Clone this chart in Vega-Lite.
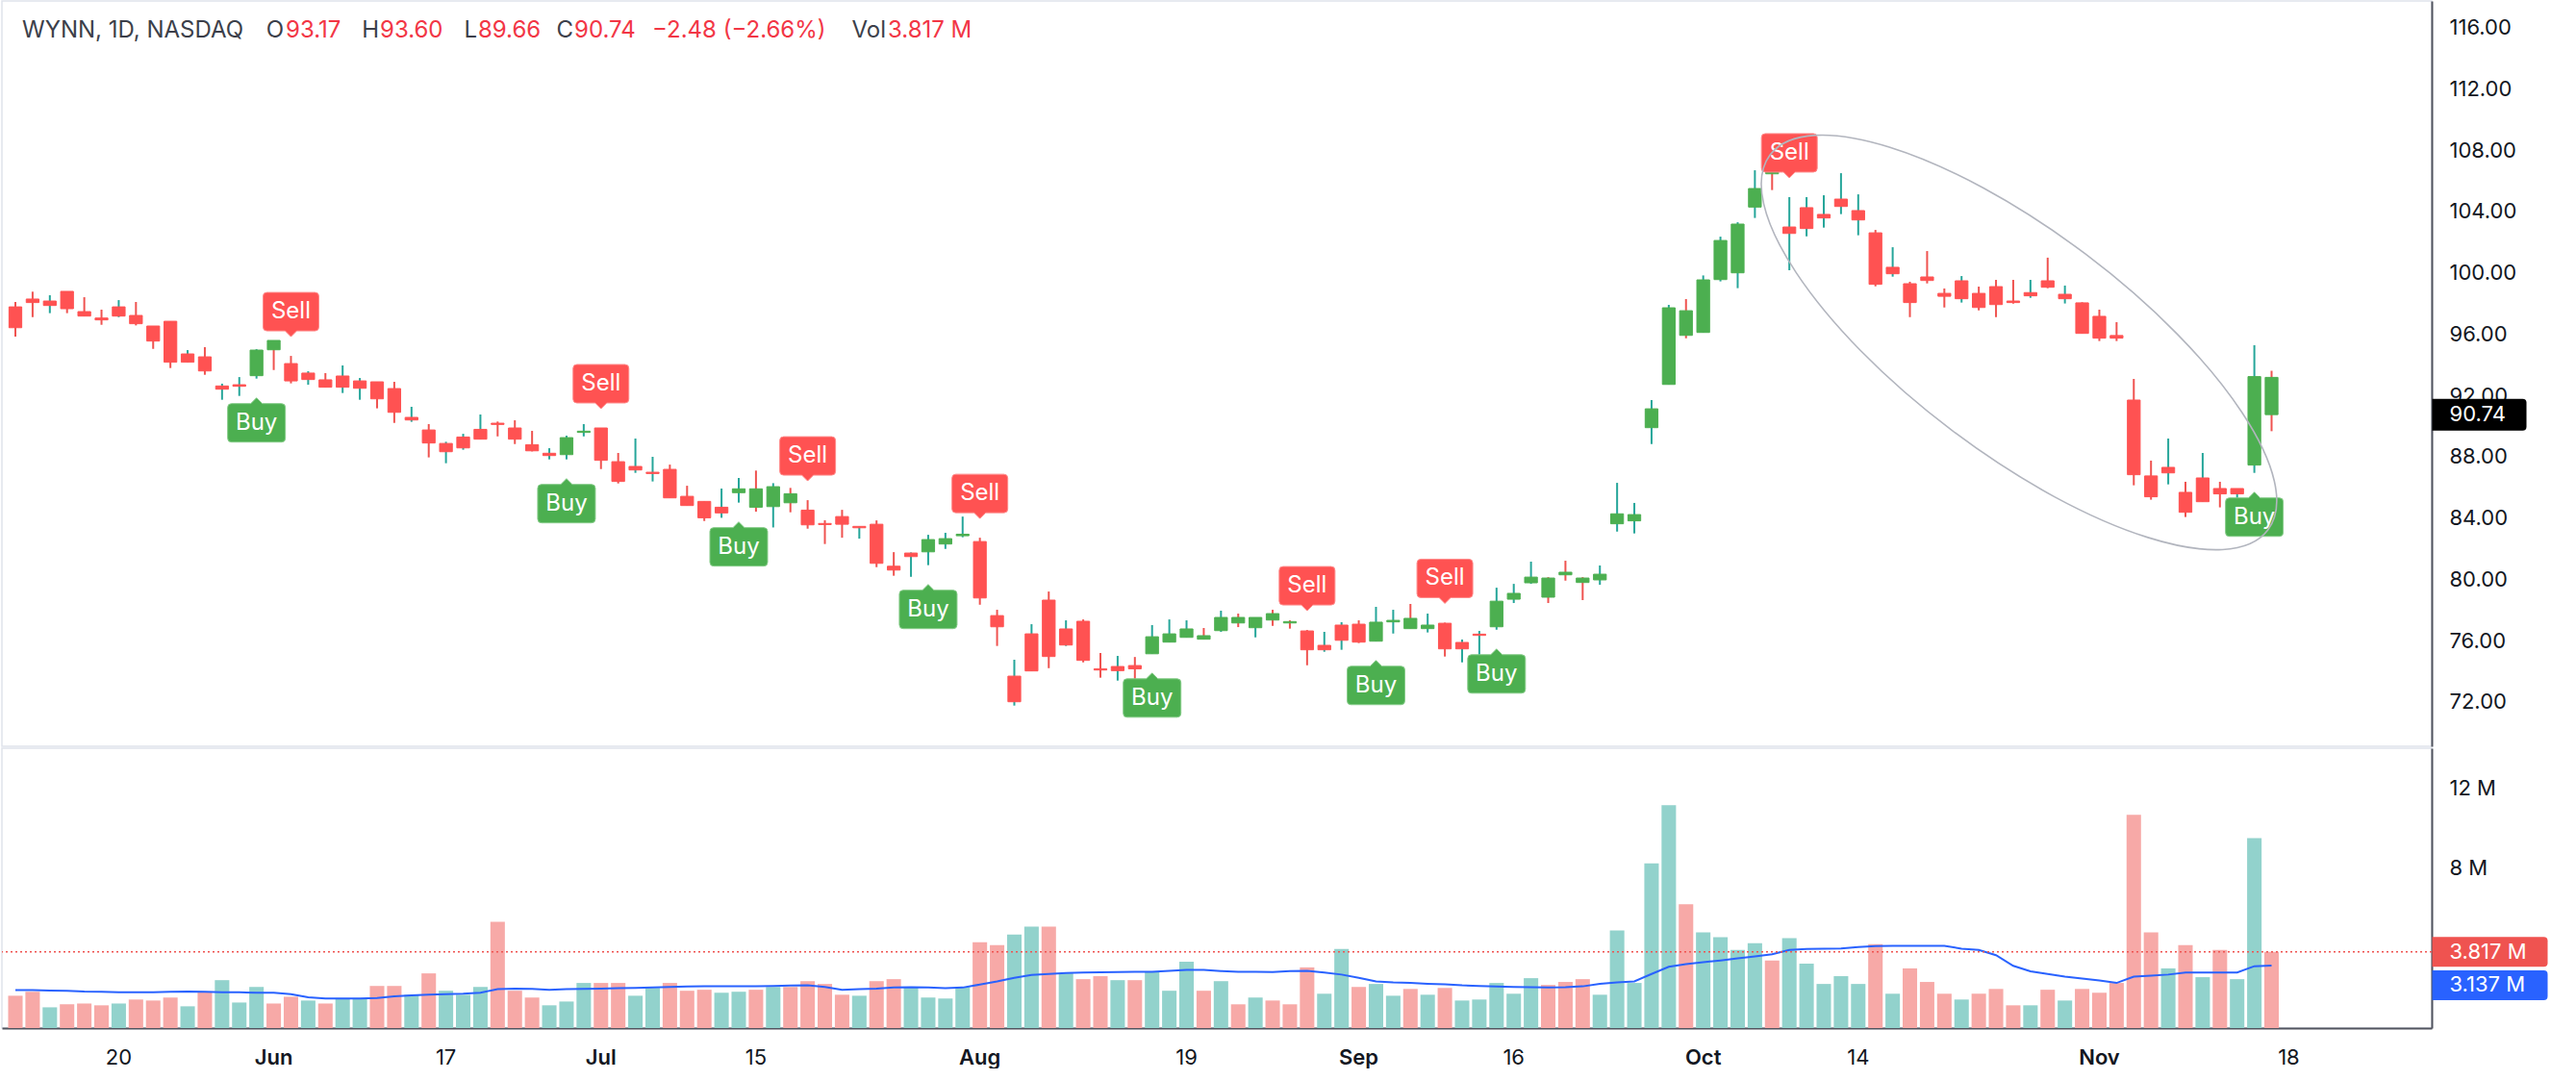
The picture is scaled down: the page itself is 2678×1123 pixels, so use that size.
{
"$schema":"https://vega.github.io/schema/vega-lite/v6.json",
"padding":0,
"spacing":0,
"background":"white",
"config":{"font":"Inter","view":{"stroke":"#e0e3eb","strokeWidth":1.5},"axis":{"labelFont":"Inter"}},
"datasets":{"candles":[
{"date":"2024-05-10","open":97.77,"high":98.09,"low":95.83,"close":96.41,"volume":1620000,"ma":1900000,"state":"short"},
{"date":"2024-05-13","open":98.28,"high":98.76,"low":97.10,"close":98.05,"volume":1820000,"ma":1900000,"state":"short"},
{"date":"2024-05-14","open":97.86,"high":98.53,"low":97.36,"close":98.15,"volume":1040000,"ma":1880000,"state":"short"},
{"date":"2024-05-15","open":98.78,"high":98.78,"low":97.36,"close":97.65,"volume":1190000,"ma":1870000,"state":"short"},
{"date":"2024-05-16","open":97.46,"high":98.40,"low":97.17,"close":97.17,"volume":1230000,"ma":1830000,"state":"short"},
{"date":"2024-05-17","open":97.04,"high":97.59,"low":96.60,"close":96.92,"volume":1140000,"ma":1820000,"state":"short"},
{"date":"2024-05-20","open":97.17,"high":98.21,"low":97.10,"close":97.77,"volume":1230000,"ma":1800000,"state":"short"},
{"date":"2024-05-21","open":97.21,"high":98.09,"low":96.56,"close":96.67,"volume":1430000,"ma":1800000,"state":"short"},
{"date":"2024-05-22","open":96.52,"high":96.52,"low":95.03,"close":95.54,"volume":1380000,"ma":1800000,"state":"short"},
{"date":"2024-05-23","open":96.83,"high":96.83,"low":93.78,"close":94.16,"volume":1530000,"ma":1820000,"state":"short"},
{"date":"2024-05-24","open":94.16,"high":94.95,"low":94.16,"close":94.70,"volume":1090000,"ma":1830000,"state":"short"},
{"date":"2024-05-28","open":94.51,"high":95.14,"low":93.34,"close":93.59,"volume":1820000,"ma":1820000,"state":"short"},
{"date":"2024-05-29","open":92.40,"high":92.76,"low":91.71,"close":92.61,"volume":2400000,"ma":1800000,"state":"short"},
{"date":"2024-05-30","open":92.59,"high":93.19,"low":91.96,"close":92.69,"volume":1280000,"ma":1790000,"state":"short"},
{"date":"2024-05-31","open":93.28,"high":95.01,"low":93.09,"close":94.95,"volume":2060000,"ma":1770000,"state":"long","signal":"Buy"},
{"date":"2024-06-03","open":95.58,"high":95.58,"low":93.65,"close":94.97,"volume":1230000,"ma":1770000,"state":"long"},
{"date":"2024-06-04","open":94.07,"high":94.57,"low":92.78,"close":92.94,"volume":1570000,"ma":1700000,"state":"short","signal":"Sell"},
{"date":"2024-06-05","open":93.03,"high":93.57,"low":92.69,"close":93.45,"volume":1380000,"ma":1540000,"state":"short"},
{"date":"2024-06-06","open":93.01,"high":93.45,"low":92.53,"close":92.53,"volume":1230000,"ma":1480000,"state":"short"},
{"date":"2024-06-07","open":92.53,"high":93.95,"low":92.15,"close":93.26,"volume":1480000,"ma":1480000,"state":"short"},
{"date":"2024-06-10","open":92.46,"high":93.13,"low":91.71,"close":92.94,"volume":1480000,"ma":1480000,"state":"short"},
{"date":"2024-06-11","open":92.88,"high":92.88,"low":91.15,"close":91.77,"volume":2110000,"ma":1510000,"state":"short"},
{"date":"2024-06-12","open":92.44,"high":92.88,"low":90.20,"close":90.89,"volume":2110000,"ma":1590000,"state":"short"},
{"date":"2024-06-13","open":90.39,"high":91.25,"low":90.27,"close":90.56,"volume":1670000,"ma":1640000,"state":"short"},
{"date":"2024-06-14","open":89.74,"high":90.12,"low":87.95,"close":88.89,"volume":2740000,"ma":1670000,"state":"short"},
{"date":"2024-06-17","open":88.32,"high":88.97,"low":87.57,"close":88.86,"volume":1870000,"ma":1700000,"state":"short"},
{"date":"2024-06-18","open":88.57,"high":89.49,"low":88.45,"close":89.28,"volume":1670000,"ma":1720000,"state":"short"},
{"date":"2024-06-20","open":89.14,"high":90.75,"low":89.14,"close":89.78,"volume":2060000,"ma":1770000,"state":"short"},
{"date":"2024-06-21","open":90.18,"high":90.29,"low":89.32,"close":90.10,"volume":5320000,"ma":1950000,"state":"short"},
{"date":"2024-06-24","open":89.87,"high":90.37,"low":88.82,"close":89.14,"volume":1870000,"ma":1980000,"state":"short"},
{"date":"2024-06-25","open":88.78,"high":89.68,"low":88.34,"close":88.38,"volume":1530000,"ma":1960000,"state":"short"},
{"date":"2024-06-26","open":88.07,"high":88.55,"low":87.82,"close":88.22,"volume":1140000,"ma":1920000,"state":"short"},
{"date":"2024-06-27","open":88.13,"high":89.37,"low":87.82,"close":89.24,"volume":1330000,"ma":1950000,"state":"long","signal":"Buy"},
{"date":"2024-06-28","open":89.58,"high":90.12,"low":89.32,"close":89.66,"volume":2260000,"ma":1960000,"state":"long"},
{"date":"2024-07-01","open":89.87,"high":89.87,"low":87.19,"close":87.76,"volume":2260000,"ma":1980000,"state":"short","signal":"Sell"},
{"date":"2024-07-02","open":87.67,"high":88.24,"low":86.25,"close":86.38,"volume":2260000,"ma":2000000,"state":"short"},
{"date":"2024-07-03","open":87.13,"high":89.18,"low":86.94,"close":87.36,"volume":1620000,"ma":2010000,"state":"short"},
{"date":"2024-07-05","open":86.90,"high":87.99,"low":86.38,"close":86.98,"volume":2010000,"ma":2030000,"state":"short"},
{"date":"2024-07-08","open":87.17,"high":87.48,"low":85.31,"close":85.31,"volume":2260000,"ma":2060000,"state":"short"},
{"date":"2024-07-09","open":85.41,"high":86.10,"low":84.81,"close":84.81,"volume":1870000,"ma":2080000,"state":"short"},
{"date":"2024-07-10","open":85.08,"high":85.08,"low":83.80,"close":84.01,"volume":1920000,"ma":2090000,"state":"short"},
{"date":"2024-07-11","open":84.33,"high":85.92,"low":84.01,"close":84.70,"volume":1770000,"ma":2090000,"state":"short"},
{"date":"2024-07-12","open":85.65,"high":86.61,"low":85.00,"close":85.90,"volume":1820000,"ma":2090000,"state":"long","signal":"Buy"},
{"date":"2024-07-15","open":85.90,"high":87.09,"low":84.41,"close":84.70,"volume":1920000,"ma":2090000,"state":"long"},
{"date":"2024-07-16","open":84.74,"high":86.27,"low":83.38,"close":86.04,"volume":2060000,"ma":2110000,"state":"long"},
{"date":"2024-07-17","open":85.58,"high":85.96,"low":84.37,"close":84.99,"volume":2060000,"ma":2130000,"state":"long"},
{"date":"2024-07-18","open":84.51,"high":85.16,"low":83.30,"close":83.55,"volume":2350000,"ma":2140000,"state":"short","signal":"Sell"},
{"date":"2024-07-19","open":83.64,"high":83.85,"low":82.30,"close":83.57,"volume":2210000,"ma":2060000,"state":"short"},
{"date":"2024-07-22","open":84.09,"high":84.53,"low":82.71,"close":83.59,"volume":1670000,"ma":1920000,"state":"short"},
{"date":"2024-07-23","open":83.36,"high":83.45,"low":82.65,"close":83.45,"volume":1620000,"ma":1950000,"state":"short"},
{"date":"2024-07-24","open":83.59,"high":83.84,"low":80.79,"close":81.04,"volume":2350000,"ma":1980000,"state":"short"},
{"date":"2024-07-25","open":80.85,"high":81.77,"low":80.23,"close":80.60,"volume":2450000,"ma":2030000,"state":"short"},
{"date":"2024-07-26","open":81.48,"high":81.75,"low":80.16,"close":81.71,"volume":2060000,"ma":2050000,"state":"short"},
{"date":"2024-07-29","open":81.79,"high":82.90,"low":80.92,"close":82.59,"volume":1530000,"ma":2030000,"state":"long","signal":"Buy"},
{"date":"2024-07-30","open":82.30,"high":83.03,"low":81.98,"close":82.65,"volume":1480000,"ma":2000000,"state":"long"},
{"date":"2024-07-31","open":82.84,"high":84.09,"low":82.74,"close":82.94,"volume":2060000,"ma":2030000,"state":"long"},
{"date":"2024-08-01","open":82.46,"high":82.71,"low":78.34,"close":78.78,"volume":4300000,"ma":2180000,"state":"short","signal":"Sell"},
{"date":"2024-08-02","open":77.63,"high":78.01,"low":75.65,"close":76.90,"volume":4160000,"ma":2340000,"state":"short"},
{"date":"2024-08-05","open":72.01,"high":74.75,"low":71.76,"close":73.68,"volume":4690000,"ma":2520000,"state":"short"},
{"date":"2024-08-06","open":74.02,"high":77.07,"low":74.02,"close":76.44,"volume":5080000,"ma":2660000,"state":"short"},
{"date":"2024-08-07","open":78.64,"high":79.20,"low":74.20,"close":74.96,"volume":5080000,"ma":2710000,"state":"short"},
{"date":"2024-08-08","open":75.71,"high":77.32,"low":75.65,"close":76.76,"volume":2740000,"ma":2760000,"state":"short"},
{"date":"2024-08-09","open":77.26,"high":77.38,"low":74.58,"close":74.71,"volume":2450000,"ma":2780000,"state":"short"},
{"date":"2024-08-12","open":74.16,"high":75.19,"low":73.58,"close":74.08,"volume":2600000,"ma":2790000,"state":"short"},
{"date":"2024-08-13","open":74.04,"high":75.00,"low":73.39,"close":74.31,"volume":2400000,"ma":2810000,"state":"short"},
{"date":"2024-08-14","open":74.37,"high":74.93,"low":73.39,"close":74.16,"volume":2400000,"ma":2820000,"state":"short"},
{"date":"2024-08-15","open":75.14,"high":77.01,"low":75.14,"close":76.25,"volume":2840000,"ma":2820000,"state":"long","signal":"Buy"},
{"date":"2024-08-16","open":75.90,"high":77.38,"low":75.90,"close":76.44,"volume":1870000,"ma":2870000,"state":"long"},
{"date":"2024-08-19","open":76.21,"high":77.32,"low":76.21,"close":76.76,"volume":3330000,"ma":2920000,"state":"long"},
{"date":"2024-08-20","open":76.32,"high":76.82,"low":76.09,"close":76.09,"volume":1870000,"ma":2910000,"state":"long"},
{"date":"2024-08-21","open":76.65,"high":77.95,"low":76.57,"close":77.51,"volume":2350000,"ma":2860000,"state":"long"},
{"date":"2024-08-22","open":77.51,"high":77.76,"low":76.88,"close":77.15,"volume":1190000,"ma":2820000,"state":"long"},
{"date":"2024-08-23","open":76.84,"high":77.51,"low":76.21,"close":77.51,"volume":1530000,"ma":2820000,"state":"long"},
{"date":"2024-08-26","open":77.76,"high":78.01,"low":76.96,"close":77.34,"volume":1380000,"ma":2810000,"state":"long"},
{"date":"2024-08-27","open":77.24,"high":77.32,"low":76.78,"close":77.15,"volume":1190000,"ma":2860000,"state":"long"},
{"date":"2024-08-28","open":76.63,"high":76.69,"low":74.39,"close":75.40,"volume":3040000,"ma":2870000,"state":"short","signal":"Sell"},
{"date":"2024-08-29","open":75.40,"high":76.57,"low":75.27,"close":75.69,"volume":1720000,"ma":2780000,"state":"short"},
{"date":"2024-08-30","open":76.02,"high":77.20,"low":75.40,"close":77.01,"volume":3960000,"ma":2680000,"state":"short"},
{"date":"2024-09-03","open":77.07,"high":77.32,"low":75.84,"close":75.90,"volume":2060000,"ma":2520000,"state":"short"},
{"date":"2024-09-04","open":75.96,"high":78.20,"low":75.96,"close":77.20,"volume":2210000,"ma":2340000,"state":"long","signal":"Buy"},
{"date":"2024-09-05","open":77.22,"high":78.01,"low":76.46,"close":77.32,"volume":1620000,"ma":2290000,"state":"long"},
{"date":"2024-09-06","open":77.45,"high":78.39,"low":76.78,"close":76.78,"volume":1960000,"ma":2260000,"state":"long"},
{"date":"2024-09-09","open":76.78,"high":77.76,"low":76.53,"close":77.01,"volume":1670000,"ma":2220000,"state":"long"},
{"date":"2024-09-10","open":77.13,"high":77.17,"low":74.96,"close":75.46,"volume":2010000,"ma":2190000,"state":"short","signal":"Sell"},
{"date":"2024-09-11","open":75.46,"high":76.07,"low":74.58,"close":75.88,"volume":1380000,"ma":2140000,"state":"short"},
{"date":"2024-09-12","open":76.34,"high":76.63,"low":75.06,"close":76.42,"volume":1430000,"ma":2110000,"state":"short"},
{"date":"2024-09-13","open":76.90,"high":79.45,"low":76.71,"close":78.57,"volume":2260000,"ma":2080000,"state":"long","signal":"Buy"},
{"date":"2024-09-16","open":78.70,"high":79.70,"low":78.45,"close":79.08,"volume":1720000,"ma":2060000,"state":"long"},
{"date":"2024-09-17","open":79.77,"high":81.15,"low":79.70,"close":80.14,"volume":2500000,"ma":2050000,"state":"long"},
{"date":"2024-09-18","open":80.08,"high":80.14,"low":78.45,"close":78.83,"volume":2160000,"ma":2030000,"state":"long"},
{"date":"2024-09-19","open":80.46,"high":81.21,"low":79.91,"close":80.29,"volume":2310000,"ma":2050000,"state":"long"},
{"date":"2024-09-20","open":80.08,"high":80.14,"low":78.64,"close":79.79,"volume":2450000,"ma":2090000,"state":"long"},
{"date":"2024-09-23","open":79.96,"high":80.90,"low":79.64,"close":80.33,"volume":1670000,"ma":2220000,"state":"long"},
{"date":"2024-09-24","open":83.62,"high":86.29,"low":83.11,"close":84.27,"volume":4890000,"ma":2290000,"state":"long"},
{"date":"2024-09-25","open":83.81,"high":84.98,"low":82.99,"close":84.22,"volume":2260000,"ma":2340000,"state":"long"},
{"date":"2024-09-26","open":89.89,"high":91.69,"low":88.82,"close":91.12,"volume":8250000,"ma":2710000,"state":"long"},
{"date":"2024-09-27","open":92.71,"high":97.90,"low":92.71,"close":97.71,"volume":11170000,"ma":3070000,"state":"long"},
{"date":"2024-09-30","open":97.52,"high":98.28,"low":95.72,"close":95.91,"volume":6200000,"ma":3200000,"state":"long"},
{"date":"2024-10-01","open":96.10,"high":99.82,"low":96.10,"close":99.53,"volume":4790000,"ma":3300000,"state":"long"},
{"date":"2024-10-02","open":99.55,"high":102.35,"low":99.43,"close":102.10,"volume":4550000,"ma":3390000,"state":"long"},
{"date":"2024-10-03","open":99.99,"high":103.29,"low":98.99,"close":103.17,"volume":3910000,"ma":3490000,"state":"long"},
{"date":"2024-10-04","open":104.28,"high":106.68,"low":103.57,"close":105.49,"volume":4250000,"ma":3590000,"state":"long"},
{"date":"2024-10-07","open":107.58,"high":107.90,"low":105.39,"close":106.45,"volume":3380000,"ma":3700000,"state":"long"},
{"date":"2024-10-08","open":102.56,"high":104.93,"low":100.16,"close":102.98,"volume":4500000,"ma":3910000,"state":"short","signal":"Sell"},
{"date":"2024-10-09","open":102.88,"high":104.93,"low":102.37,"close":104.24,"volume":3230000,"ma":3960000,"state":"short"},
{"date":"2024-10-10","open":103.57,"high":105.05,"low":102.94,"close":103.80,"volume":2210000,"ma":3980000,"state":"short"},
{"date":"2024-10-11","open":104.32,"high":106.49,"low":103.82,"close":104.80,"volume":2600000,"ma":3990000,"state":"short"},
{"date":"2024-10-14","open":103.44,"high":105.11,"low":102.44,"close":104.05,"volume":2210000,"ma":4060000,"state":"short"},
{"date":"2024-10-15","open":102.60,"high":102.79,"low":99.11,"close":99.24,"volume":4200000,"ma":4110000,"state":"short"},
{"date":"2024-10-16","open":99.93,"high":101.66,"low":99.74,"close":100.35,"volume":1720000,"ma":4120000,"state":"short"},
{"date":"2024-10-17","open":99.28,"high":99.41,"low":97.10,"close":98.05,"volume":2990000,"ma":4120000,"state":"short"},
{"date":"2024-10-18","open":99.72,"high":101.41,"low":99.30,"close":99.49,"volume":2310000,"ma":4120000,"state":"short"},
{"date":"2024-10-21","open":98.65,"high":98.97,"low":97.73,"close":98.46,"volume":1720000,"ma":4120000,"state":"short"},
{"date":"2024-10-22","open":98.30,"high":99.78,"low":98.05,"close":99.47,"volume":1430000,"ma":3980000,"state":"short"},
{"date":"2024-10-23","open":98.65,"high":99.09,"low":97.54,"close":97.73,"volume":1720000,"ma":3910000,"state":"short"},
{"date":"2024-10-24","open":99.09,"high":99.53,"low":97.10,"close":97.92,"volume":1960000,"ma":3650000,"state":"short"},
{"date":"2024-10-25","open":98.15,"high":99.53,"low":97.98,"close":98.05,"volume":1140000,"ma":3120000,"state":"short"},
{"date":"2024-10-28","open":98.49,"high":99.53,"low":98.36,"close":98.70,"volume":1140000,"ma":2840000,"state":"short"},
{"date":"2024-10-29","open":99.47,"high":100.98,"low":98.99,"close":99.05,"volume":1920000,"ma":2710000,"state":"short"},
{"date":"2024-10-30","open":98.30,"high":99.16,"low":97.99,"close":98.59,"volume":1380000,"ma":2580000,"state":"short"},
{"date":"2024-10-31","open":98.03,"high":98.07,"low":96.04,"close":96.04,"volume":1960000,"ma":2480000,"state":"short"},
{"date":"2024-11-01","open":97.15,"high":97.59,"low":95.54,"close":95.73,"volume":1770000,"ma":2390000,"state":"short"},
{"date":"2024-11-04","open":95.90,"high":96.77,"low":95.54,"close":95.73,"volume":2260000,"ma":2260000,"state":"short"},
{"date":"2024-11-05","open":91.69,"high":93.07,"low":86.13,"close":86.82,"volume":10680000,"ma":2580000,"state":"short"},
{"date":"2024-11-06","open":86.74,"high":87.74,"low":85.19,"close":85.38,"volume":4790000,"ma":2630000,"state":"short"},
{"date":"2024-11-07","open":86.94,"high":89.18,"low":86.19,"close":87.30,"volume":2990000,"ma":2680000,"state":"short"},
{"date":"2024-11-08","open":85.67,"high":86.36,"low":84.06,"close":84.37,"volume":4160000,"ma":2780000,"state":"short"},
{"date":"2024-11-11","open":85.06,"high":88.24,"low":85.06,"close":86.61,"volume":2550000,"ma":2780000,"state":"short"},
{"date":"2024-11-12","open":85.92,"high":86.36,"low":84.69,"close":85.57,"volume":3910000,"ma":2780000,"state":"short"},
{"date":"2024-11-13","open":85.57,"high":85.92,"low":84.81,"close":85.92,"volume":2450000,"ma":2780000,"state":"short"},
{"date":"2024-11-14","open":87.45,"high":95.27,"low":86.94,"close":93.22,"volume":9510000,"ma":3100000,"state":"long","signal":"Buy"},
{"date":"2024-11-15","open":93.17,"high":93.60,"low":89.66,"close":90.74,"volume":3817000,"ma":3137000,"state":"long"}
]},
"data":{"name":"candles"},
"vconcat":[
{
"width":2526,"height":775,
"encoding":{"x":{"field":"date","type":"ordinal","axis":null,"scale":{"type":"band","paddingInner":0,"paddingOuter":0.54,"align":0.261,"domain":["2024-05-10","2024-05-13","2024-05-14","2024-05-15","2024-05-16","2024-05-17","2024-05-20","2024-05-21","2024-05-22","2024-05-23","2024-05-24","2024-05-28","2024-05-29","2024-05-30","2024-05-31","2024-06-03","2024-06-04","2024-06-05","2024-06-06","2024-06-07","2024-06-10","2024-06-11","2024-06-12","2024-06-13","2024-06-14","2024-06-17","2024-06-18","2024-06-20","2024-06-21","2024-06-24","2024-06-25","2024-06-26","2024-06-27","2024-06-28","2024-07-01","2024-07-02","2024-07-03","2024-07-05","2024-07-08","2024-07-09","2024-07-10","2024-07-11","2024-07-12","2024-07-15","2024-07-16","2024-07-17","2024-07-18","2024-07-19","2024-07-22","2024-07-23","2024-07-24","2024-07-25","2024-07-26","2024-07-29","2024-07-30","2024-07-31","2024-08-01","2024-08-02","2024-08-05","2024-08-06","2024-08-07","2024-08-08","2024-08-09","2024-08-12","2024-08-13","2024-08-14","2024-08-15","2024-08-16","2024-08-19","2024-08-20","2024-08-21","2024-08-22","2024-08-23","2024-08-26","2024-08-27","2024-08-28","2024-08-29","2024-08-30","2024-09-03","2024-09-04","2024-09-05","2024-09-06","2024-09-09","2024-09-10","2024-09-11","2024-09-12","2024-09-13","2024-09-16","2024-09-17","2024-09-18","2024-09-19","2024-09-20","2024-09-23","2024-09-24","2024-09-25","2024-09-26","2024-09-27","2024-09-30","2024-10-01","2024-10-02","2024-10-03","2024-10-04","2024-10-07","2024-10-08","2024-10-09","2024-10-10","2024-10-11","2024-10-14","2024-10-15","2024-10-16","2024-10-17","2024-10-18","2024-10-21","2024-10-22","2024-10-23","2024-10-24","2024-10-25","2024-10-28","2024-10-29","2024-10-30","2024-10-31","2024-11-01","2024-11-04","2024-11-05","2024-11-06","2024-11-07","2024-11-08","2024-11-11","2024-11-12","2024-11-13","2024-11-14","2024-11-15","2024-11-18","2024-11-19","2024-11-20","2024-11-21","2024-11-22","2024-11-25","2024-11-26","2024-11-27"]}}},
"layer":[
{"mark":{"type":"rule","strokeWidth":2},
 "encoding":{"y":{"field":"low","type":"quantitative","scale":{"domain":[69.105,117.725],"nice":false,"zero":false},
   "axis":{"orient":"right","values":[72,76,80,84,88,92,96,100,104,108,112,116],"format":".2f","labelPadding":18,"labelAlign":"left","labelBaseline":"middle","ticks":false,"tickSize":0,"grid":false,"domain":true,"domainColor":"#50535e","domainWidth":2,"title":null,"labelFontSize":22,"labelColor":"#131722"}},
  "y2":{"field":"high"},
  "color":{"condition":{"test":"datum.close >= datum.open","value":"#26a69a"},"value":"#ef5350"}}},
{"mark":{"type":"bar","width":{"band":0.74},"strokeWidth":1},
 "encoding":{"y":{"field":"open","type":"quantitative"},"y2":{"field":"close"},
  "color":{"field":"state","type":"nominal","scale":{"domain":["long","short"],"range":["#4caf50","#ff5252"]},"legend":null},
  "stroke":{"field":"state","type":"nominal","scale":{"domain":["long","short"],"range":["#4caf50","#ff5252"]},"legend":null}}},
{"transform":[{"filter":"datum.signal === 'Sell'"}],
 "mark":{"type":"point","shape":"M-25,-66H25Q29,-66 29,-62V-30Q29,-26 25,-26H6L0,-20L-6,-26H-25Q-29,-26 -29,-30V-62Q-29,-66 -25,-66Z","size":4,"filled":true,"fill":"#ff5252","stroke":"#ff8a8a","strokeWidth":1,"opacity":1},
 "encoding":{"y":{"field":"high","type":"quantitative"}}},
{"transform":[{"filter":"datum.signal === 'Sell'"}],
 "mark":{"type":"text","text":"Sell","color":"#ffffff","fontSize":24,"yOffset":-46,"baseline":"middle","align":"center"},
 "encoding":{"y":{"field":"high","type":"quantitative"}}},
{"transform":[{"filter":"datum.signal === 'Buy'"}],
 "mark":{"type":"point","shape":"M-26,26H-6L0,20L6,26H26Q30,26 30,30V62Q30,66 26,66H-26Q-30,66 -30,62V30Q-30,26 -26,26Z","size":4,"filled":true,"fill":"#4caf50","stroke":"#86cc89","strokeWidth":1,"opacity":1},
 "encoding":{"y":{"field":"low","type":"quantitative"}}},
{"transform":[{"filter":"datum.signal === 'Buy'"}],
 "mark":{"type":"text","text":"Buy","color":"#ffffff","fontSize":24,"yOffset":46,"baseline":"middle","align":"center"},
 "encoding":{"y":{"field":"low","type":"quantitative"}}},
{"data":{"values":[{}]},"mark":{"type":"point","shape":"M-324,0A324,115 0 1,0 324,0A324,115 0 1,0 -324,0Z","size":4,"filled":false,"stroke":"#b2b5be","strokeWidth":1.6,"opacity":1,"angle":37,"xOffset":6},
 "encoding":{"x":{"datum":"2024-10-25","type":"ordinal"},"y":{"datum":95.45,"type":"quantitative"}}},
{"transform":[{"filter":"datum.date === '2024-11-15'"}],
 "mark":{"type":"point","shape":"M167,-16.5H261Q265,-16.5 265,-12.5V12.5Q265,16.5 261,16.5H167Z","size":4,"filled":true,"fill":"#000000","strokeWidth":0,"opacity":1},
 "encoding":{"y":{"field":"close","type":"quantitative"}}},
{"transform":[{"filter":"datum.date === '2024-11-15'"}],
 "mark":{"type":"text","color":"#ffffff","fontSize":22,"align":"left","baseline":"middle","xOffset":185},
 "encoding":{"y":{"field":"close","type":"quantitative"},"text":{"field":"close","type":"quantitative","format":".2f"}}},
{"data":{"values":[{}]},"mark":{"type":"text","text":"WYNN, 1D, NASDAQ","align":"left","baseline":"middle","fontSize":24,"color":"#3c3f4a","xOffset":7},"encoding":{"x":{"datum":"2024-05-10","type":"ordinal"},"y":{"datum":115.78,"type":"quantitative"}}},
{"data":{"values":[{}]},"mark":{"type":"text","text":"O","align":"right","baseline":"middle","fontSize":24,"color":"#3c3f4a","xOffset":279},"encoding":{"x":{"datum":"2024-05-10","type":"ordinal"},"y":{"datum":115.78,"type":"quantitative"}}},
{"data":{"values":[{}]},"mark":{"type":"text","text":"93.17","align":"left","baseline":"middle","fontSize":24,"color":"#f23645","xOffset":281},"encoding":{"x":{"datum":"2024-05-10","type":"ordinal"},"y":{"datum":115.78,"type":"quantitative"}}},
{"data":{"values":[{}]},"mark":{"type":"text","text":"H","align":"right","baseline":"middle","fontSize":24,"color":"#3c3f4a","xOffset":378},"encoding":{"x":{"datum":"2024-05-10","type":"ordinal"},"y":{"datum":115.78,"type":"quantitative"}}},
{"data":{"values":[{}]},"mark":{"type":"text","text":"93.60","align":"left","baseline":"middle","fontSize":24,"color":"#f23645","xOffset":379},"encoding":{"x":{"datum":"2024-05-10","type":"ordinal"},"y":{"datum":115.78,"type":"quantitative"}}},
{"data":{"values":[{}]},"mark":{"type":"text","text":"L","align":"right","baseline":"middle","fontSize":24,"color":"#3c3f4a","xOffset":480},"encoding":{"x":{"datum":"2024-05-10","type":"ordinal"},"y":{"datum":115.78,"type":"quantitative"}}},
{"data":{"values":[{}]},"mark":{"type":"text","text":"89.66","align":"left","baseline":"middle","fontSize":24,"color":"#f23645","xOffset":481},"encoding":{"x":{"datum":"2024-05-10","type":"ordinal"},"y":{"datum":115.78,"type":"quantitative"}}},
{"data":{"values":[{}]},"mark":{"type":"text","text":"C","align":"right","baseline":"middle","fontSize":24,"color":"#3c3f4a","xOffset":580},"encoding":{"x":{"datum":"2024-05-10","type":"ordinal"},"y":{"datum":115.78,"type":"quantitative"}}},
{"data":{"values":[{}]},"mark":{"type":"text","text":"90.74","align":"left","baseline":"middle","fontSize":24,"color":"#f23645","xOffset":581},"encoding":{"x":{"datum":"2024-05-10","type":"ordinal"},"y":{"datum":115.78,"type":"quantitative"}}},
{"data":{"values":[{}]},"mark":{"type":"text","text":"−2.48 (−2.66%)","align":"left","baseline":"middle","fontSize":24,"color":"#f23645","xOffset":662},"encoding":{"x":{"datum":"2024-05-10","type":"ordinal"},"y":{"datum":115.78,"type":"quantitative"}}},
{"data":{"values":[{}]},"mark":{"type":"text","text":"Vol","align":"right","baseline":"middle","fontSize":24,"color":"#3c3f4a","xOffset":905},"encoding":{"x":{"datum":"2024-05-10","type":"ordinal"},"y":{"datum":115.78,"type":"quantitative"}}},
{"data":{"values":[{}]},"mark":{"type":"text","text":"3.817 M","align":"left","baseline":"middle","fontSize":24,"color":"#f23645","xOffset":907},"encoding":{"x":{"datum":"2024-05-10","type":"ordinal"},"y":{"datum":115.78,"type":"quantitative"}}}
]
},
{
"width":2526,"height":291,
"encoding":{"x":{"field":"date","type":"ordinal","scale":{"type":"band","paddingInner":0,"paddingOuter":0.54,"align":0.261,"domain":["2024-05-10","2024-05-13","2024-05-14","2024-05-15","2024-05-16","2024-05-17","2024-05-20","2024-05-21","2024-05-22","2024-05-23","2024-05-24","2024-05-28","2024-05-29","2024-05-30","2024-05-31","2024-06-03","2024-06-04","2024-06-05","2024-06-06","2024-06-07","2024-06-10","2024-06-11","2024-06-12","2024-06-13","2024-06-14","2024-06-17","2024-06-18","2024-06-20","2024-06-21","2024-06-24","2024-06-25","2024-06-26","2024-06-27","2024-06-28","2024-07-01","2024-07-02","2024-07-03","2024-07-05","2024-07-08","2024-07-09","2024-07-10","2024-07-11","2024-07-12","2024-07-15","2024-07-16","2024-07-17","2024-07-18","2024-07-19","2024-07-22","2024-07-23","2024-07-24","2024-07-25","2024-07-26","2024-07-29","2024-07-30","2024-07-31","2024-08-01","2024-08-02","2024-08-05","2024-08-06","2024-08-07","2024-08-08","2024-08-09","2024-08-12","2024-08-13","2024-08-14","2024-08-15","2024-08-16","2024-08-19","2024-08-20","2024-08-21","2024-08-22","2024-08-23","2024-08-26","2024-08-27","2024-08-28","2024-08-29","2024-08-30","2024-09-03","2024-09-04","2024-09-05","2024-09-06","2024-09-09","2024-09-10","2024-09-11","2024-09-12","2024-09-13","2024-09-16","2024-09-17","2024-09-18","2024-09-19","2024-09-20","2024-09-23","2024-09-24","2024-09-25","2024-09-26","2024-09-27","2024-09-30","2024-10-01","2024-10-02","2024-10-03","2024-10-04","2024-10-07","2024-10-08","2024-10-09","2024-10-10","2024-10-11","2024-10-14","2024-10-15","2024-10-16","2024-10-17","2024-10-18","2024-10-21","2024-10-22","2024-10-23","2024-10-24","2024-10-25","2024-10-28","2024-10-29","2024-10-30","2024-10-31","2024-11-01","2024-11-04","2024-11-05","2024-11-06","2024-11-07","2024-11-08","2024-11-11","2024-11-12","2024-11-13","2024-11-14","2024-11-15","2024-11-18","2024-11-19","2024-11-20","2024-11-21","2024-11-22","2024-11-25","2024-11-26","2024-11-27"]},
 "axis":{"values":["2024-05-20","2024-06-03","2024-06-17","2024-07-01","2024-07-15","2024-08-01","2024-08-19","2024-09-03","2024-09-16","2024-10-01","2024-10-14","2024-11-01","2024-11-18"],
  "labelExpr":"['20','Jun','17','Jul','15','Aug','19','Sep','16','Oct','14','Nov','18'][indexof(['2024-05-20','2024-06-03','2024-06-17','2024-07-01','2024-07-15','2024-08-01','2024-08-19','2024-09-03','2024-09-16','2024-10-01','2024-10-14','2024-11-01','2024-11-18'], datum.value)]",
  "labelFontWeight":{"condition":{"test":"indexof(['2024-06-03','2024-07-01','2024-08-01','2024-09-03','2024-10-01','2024-11-01'], datum.value) >= 0","value":600},"value":400},
  "labelFontSize":22,"labelColor":"#131722","labelPadding":30,"labelBaseline":"middle","labelAngle":0,"labelOverlap":false,"labelFlush":false,"ticks":false,"tickSize":0,"grid":false,"domainColor":"#50535e","domainWidth":2,"title":null}}},
"layer":[
{"mark":{"type":"bar","width":{"band":0.84}},
 "encoding":{"y":{"field":"volume","type":"quantitative","scale":{"domain":[0,14020000],"nice":false,"zero":true},
   "axis":{"orient":"right","values":[8000000,12000000],"labelExpr":"format(datum.value/1000000,'d') + ' M'","labelPadding":18,"labelAlign":"left","labelBaseline":"middle","ticks":false,"tickSize":0,"grid":false,"domainColor":"#50535e","domainWidth":2,"title":null,"labelFontSize":22,"labelColor":"#131722"}},
  "color":{"condition":{"test":"datum.close >= datum.open","value":"#92d2cc"},"value":"#f7a9a7"}}},
{"mark":{"type":"line","color":"#2962ff","strokeWidth":2},
 "encoding":{"y":{"field":"ma","type":"quantitative"}}},
{"transform":[{"filter":"datum.date === '2024-11-15'"}],
 "mark":{"type":"rule","color":"#ef5350","strokeWidth":1.5,"strokeDash":[2,3]},
 "encoding":{"x":null,"y":{"field":"volume","type":"quantitative"}}},
{"transform":[{"filter":"datum.date === '2024-11-15'"}],
 "mark":{"type":"point","shape":"M167,-15.5H283Q287,-15.5 287,-11.5V11.5Q287,15.5 283,15.5H167Z","size":4,"filled":true,"fill":"#ef5350","strokeWidth":0,"opacity":1},
 "encoding":{"y":{"field":"volume","type":"quantitative"}}},
{"transform":[{"filter":"datum.date === '2024-11-15'"},{"calculate":"format(datum.volume/1000000,'.3f') + ' M'","as":"vlabel"}],
 "mark":{"type":"text","color":"#ffffff","fontSize":22,"align":"left","baseline":"middle","xOffset":185},
 "encoding":{"y":{"field":"volume","type":"quantitative"},"text":{"field":"vlabel","type":"nominal"}}},
{"transform":[{"filter":"datum.date === '2024-11-15'"}],
 "mark":{"type":"point","shape":"M167,-15.5H283Q287,-15.5 287,-11.5V11.5Q287,15.5 283,15.5H167Z","size":4,"filled":true,"fill":"#2962ff","strokeWidth":0,"opacity":1,"yOffset":20.5},
 "encoding":{"y":{"field":"ma","type":"quantitative"}}},
{"transform":[{"filter":"datum.date === '2024-11-15'"},{"calculate":"format(datum.ma/1000000,'.3f') + ' M'","as":"mlabel"}],
 "mark":{"type":"text","color":"#ffffff","fontSize":22,"align":"left","baseline":"middle","xOffset":185,"yOffset":20.5},
 "encoding":{"y":{"field":"ma","type":"quantitative"},"text":{"field":"mlabel","type":"nominal"}}}
]
}
]
}
